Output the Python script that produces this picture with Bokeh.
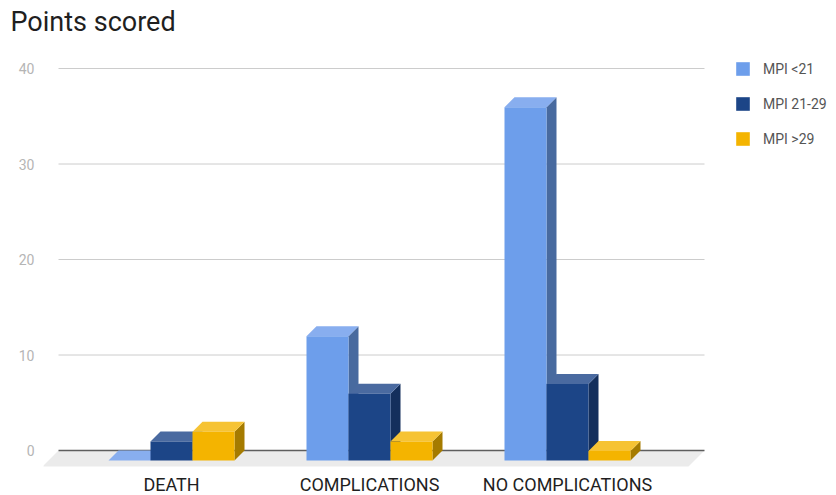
from bokeh.plotting import figure
from bokeh.models import Range1d, FixedTicker, Legend, LegendItem, ColumnDataSource, Title
from bokeh.core.properties import value
from bokeh.embed import file_html
from bokeh.resources import INLINE

# ---------------- data ----------------
categories = ["DEATH", "COMPLICATIONS", "NO COMPLICATIONS"]
series_names = ["MPI <21", "MPI 21-29", "MPI >29"]
mpi_lt21 = [0, 13, 37]
mpi_21_29 = [2, 7, 8]
mpi_gt29 = [3, 2, 1]
y_ticks = [0, 10, 20, 30, 40]

# ---------------- styles ----------------
front_colors = ["#6d9eeb", "#1c4587", "#f4b400"]
top_colors = ["#88aeef", "#4a6aa0", "#f6c334"]
side_colors = ["#486a9f", "#142f5c", "#a57b00"]
FONT = "Roboto"

W, H = 836, 495
LEFT = 43
TOP = 40
# pixel calibration of the frame (front plane of categories, back plane of values)
X0_PX, X_STEP_PX = 171.0, 198.0
Y0_PX, Y_UNIT_PX = 450.0, 9.55


def xd(px):
    return (px - X0_PX) / X_STEP_PX


def yd(py):
    return (Y0_PX - py) / Y_UNIT_PX


BW = 42.0 / X_STEP_PX          # bar width
DX = 10.0 / X_STEP_PX          # depth offset (x)
DY = 10.0 / Y_UNIT_PX          # depth offset (y)
FDX = 16.0 / X_STEP_PX         # floor depth
FDY = 16.0 / Y_UNIT_PX
GROUP_HALF = 63.0 / X_STEP_PX

p = figure(width=W, height=H,
           x_range=Range1d(xd(LEFT), xd(W)), y_range=Range1d(yd(H), yd(TOP)),
           output_backend="svg", toolbar_location=None, x_axis_location=None,
           min_border_left=LEFT, min_border_right=0, min_border_top=TOP, min_border_bottom=0,
           outline_line_color=None, background_fill_color="white", border_fill_color="white")
p.grid.visible = False

# title
p.add_layout(Title(text="Points scored", text_font=FONT, text_font_size="27px",
                   text_font_style="normal", text_color="#1f1f1f", align="left",
                   offset=10 - LEFT, standoff=6), "above")

# y axis
ax = p.yaxis[0]
ax.ticker = FixedTicker(ticks=y_ticks)
ax.axis_line_color = None
ax.major_tick_line_color = None
ax.minor_tick_line_color = None
ax.major_tick_in = 0
ax.major_tick_out = 0
ax.major_label_standoff = 9
ax.major_label_text_font = FONT
ax.major_label_text_font_size = "14px"
ax.major_label_text_color = "#b5b5b5"

# gridlines on the back wall
gx0, gx1 = xd(58), xd(704)
grid_vals = [t for t in y_ticks if t != 0]
p.segment(x0=[gx0] * len(grid_vals), x1=[gx1] * len(grid_vals), y0=grid_vals, y1=grid_vals,
          line_color="#cccccc", line_width=1)

# floor
p.patch(x=[gx0, gx1, gx1 - FDX, gx0 - FDX], y=[0, 0, -FDY, -FDY],
        fill_color="#ebebeb", line_color=None)
p.segment(x0=[gx0], x1=[gx1], y0=[0], y1=[0], line_color="#5e5e5e", line_width=1.5)

# bars
series = [mpi_lt21, mpi_21_29, mpi_gt29]
front_renderers = []
for j, vals in enumerate(series):
    lefts = [i - GROUP_HALF + j * BW for i in range(len(categories))]
    side_xs, side_ys, top_xs, top_ys = [], [], [], []
    for L, v in zip(lefts, vals):
        R = L + BW
        side_xs.append([R, R, R + DX, R + DX])
        side_ys.append([-DY, v - DY, v, 0])
        top_xs.append([L, R, R + DX, L + DX])
        top_ys.append([v - DY, v - DY, v, v])
    p.patches(xs=side_xs, ys=side_ys, fill_color=side_colors[j], line_color=None)
    p.patches(xs=top_xs, ys=top_ys, fill_color=top_colors[j], line_color=None)
    src = ColumnDataSource(dict(left=lefts, right=[L + BW for L in lefts],
                                bottom=[-DY] * len(vals), top=[v - DY for v in vals]))
    r = p.quad(left="left", right="right", bottom="bottom", top="top", source=src,
               fill_color=front_colors[j], line_color=None)
    front_renderers.append(r)

# category labels
p.text(x=list(range(len(categories))), y=[yd(484)] * len(categories), text=categories,
       text_font=value(FONT), text_font_size="18px", text_color="#1f1f1f",
       text_align="center", text_baseline="middle")

# legend (location = bottom-left corner, measured from frame bottom-left)
n_items = len(series_names)
leg_h = n_items * 17 + (n_items - 1) * 18
legend = Legend(items=[LegendItem(label=n, renderers=[r]) for n, r in zip(series_names, front_renderers)],
                location=(734 - LEFT, H - 60 - leg_h), orientation="vertical",
                glyph_width=17, glyph_height=17, label_height=17, label_standoff=12, spacing=18,
                padding=0, margin=0, border_line_color=None, background_fill_alpha=0,
                label_text_font=FONT, label_text_font_size="14px", label_text_color="#555555")
p.add_layout(legend)

open("out.html", "w").write(file_html(p, INLINE))
